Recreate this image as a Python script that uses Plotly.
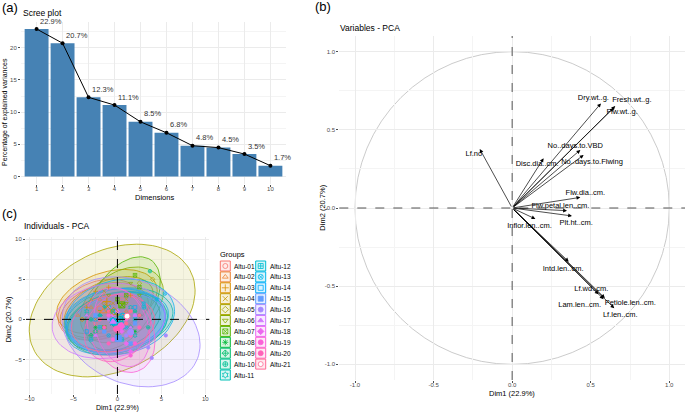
import math
import plotly.graph_objects as go

W, H = 685, 414

# ---------------- (a) scree plot
dims = [1, 2, 3, 4, 5, 6, 7, 8, 9, 10]
var_pct = [22.9, 20.7, 12.3, 11.1, 8.5, 6.8, 4.8, 4.5, 3.5, 1.7]
var_lbl = ["22.9%", "20.7%", "12.3%", "11.1%", "8.5%", "6.8%", "4.8%", "4.5%", "3.5%", "1.7%"]

# ---------------- (b) variables - PCA (arrow tips and label spots)
var_names = ["Dry.wt..g.", "Fresh.wt..g.", "Flw.wt..g.", "No..days.to.VBD", "No..days.to.Flwing",
             "Disc.dia..cm.", "Lf.no", "Flw.dia..cm.", "Flw.petal.len..cm.", "Plt.ht..cm.",
             "Inflor.len..cm.", "Intd.len..cm.", "Lf.wd..cm.", "Lam.len..cm.", "Petiole.len..cm.",
             "Lf.len..cm."]
var_x = [0.565, 0.656, 0.646, 0.434, 0.455, 0.200, -0.206, 0.434, 0.349, 0.381,
         0.148, 0.360, 0.550, 0.582, 0.590, 0.650]
var_y = [0.669, 0.652, 0.640, 0.371, 0.339, 0.318, 0.377, 0.068, -0.017, -0.051,
         -0.070, -0.343, -0.552, -0.583, -0.576, -0.641]
lab_x = [0.517, 0.762, 0.700, 0.402, 0.508, 0.159, -0.244, 0.466, 0.307, 0.408,
         0.110, 0.324, 0.504, 0.430, 0.752, 0.688]
lab_y = [0.700, 0.690, 0.610, 0.398, 0.292, 0.279, 0.343, 0.098, 0.013, -0.094,
         -0.113, -0.388, -0.518, -0.622, -0.611, -0.686]

# ---------------- (c) individuals - PCA
groups = ["Altu-01", "Altu-02", "Altu-03", "Altu-04", "Altu-05", "Altu-06", "Altu-07",
          "Altu-08", "Altu-09", "Altu-10", "Altu-11", "Altu-12", "Altu-13", "Altu-14",
          "Altu-15", "Altu-16", "Altu-17", "Altu-18", "Altu-19", "Altu-20", "Altu-21"]
ell_cx = [-2.0, -1.5, -1.2, -1.0, -0.6, 0.5, 0.6, -0.5, 0.0, 0.2, -0.3, 0.0, 0.3, -0.2,
          0.0, 1.55, -1.0, 0.5, 0.4, 0.0, -0.5]
ell_cy = [1.2, 1.0, 2.2, 1.5, 1.1, 1.8, 2.0, -0.3, -0.5, 0.0, -0.2, -0.5, 0.3, 0.0,
          -0.5, -1.55, -0.2, -1.0, -1.3, -1.0, -0.5]
ell_a = [5.0, 5.2, 6.0, 5.5, 10.2, 5.5, 6.3, 5.5, 5.8, 6.2, 5.8, 6.0, 6.3, 5.7,
         5.5, 8.3, 6.5, 5.0, 5.5, 4.5, 4.8]
ell_b = [3.5, 3.3, 3.6, 3.2, 7.3, 3.8, 3.5, 3.5, 3.8, 3.8, 4.0, 3.6, 4.6, 3.8,
         3.5, 6.3, 4.6, 3.0, 3.6, 3.5, 3.5]
ell_ang = [25, 20, 22, 28, 33, 45, 62, 18, 15, 12, 8, 18, 15, 10, 15, -30, 12, -75, -70, 60, 12]

pts_x = [[-3.5, -1.0, -2.5, 0.5, -4.0, -1.5], [-3.0, -0.5, -2.0, 1.0, -4.5, -1.0],
         [-2.5, 0.5, -3.5, -1.0, 1.5, -2.0], [-3.0, 0.0, -1.5, 1.0, -2.5, -0.5],
         [-4.0, 2.5, -1.5, 0.5, 4.0, -2.5], [-1.0, 1.5, 0.0, 2.5, -2.0, 1.0],
         [-0.5, 2.0, 1.0, -1.5, 2.5, 0.0], [-2.5, 1.0, -1.0, 2.0, -3.5, 0.0],
         [-2.0, 1.5, -3.0, 2.5, 0.0, -1.0], [-3.0, 2.0, 0.0, 3.5, -1.5, 3.7],
         [-2.5, 1.5, -0.5, 2.0, -3.5, 0.5], [-2.0, 2.0, 0.5, -1.0, 3.0, -3.0],
         [-2.0, 3.0, 1.0, 4.5, -1.0, 5.4], [-2.5, 1.5, -0.5, 2.0, -3.5, 0.5],
         [-1.5, 2.0, 0.0, 1.5, -2.5, 1.0], [-1.0, 3.5, 1.0, 5.5, 2.0, 3.9],
         [-3.5, 1.5, -1.0, 2.0, -2.5, 0.0], [0.0, 1.0, 0.5, -0.5, 1.5, 0.0],
         [-1.0, 2.0, 0.0, 1.5, -0.5, 1.0], [-1.5, 1.0, 0.0, 2.5, -1.0, 1.5],
         [-2.0, 1.5, 0.0, 2.5, -1.0, 1.0]]
pts_y = [[2.0, 0.5, -0.5, 2.5, 0.0, 3.0], [1.5, -0.5, 2.5, 1.0, 0.5, 0.0],
         [3.5, 2.0, 1.5, 4.0, 3.0, 0.5], [2.5, 1.0, 3.5, 2.5, 0.0, 2.0],
         [0.0, 4.5, 2.0, 0.5, 5.0, -1.5], [3.0, 4.5, 0.5, 3.0, 1.0, 2.0],
         [1.0, 5.5, 3.0, -1.0, 4.0, 2.5], [-1.0, 0.5, 1.5, -1.5, 0.5, -2.0],
         [0.5, -1.0, -2.0, 0.5, -1.5, 1.0], [0.0, 1.0, -2.0, -1.0, 1.5, 6.0],
         [-1.5, 1.5, 0.5, -2.0, 1.0, -1.0], [-1.0, 0.0, -2.5, 1.5, 1.5, -2.5],
         [0.5, 2.0, -1.0, 2.5, -2.0, 3.2], [0.0, -1.5, 1.0, 1.5, -1.5, -0.5],
         [-1.5, -0.5, 1.0, -3.0, 0.5, 0.5], [0.0, -3.5, -2.0, -2.0, 0.5, -4.8],
         [0.5, -1.0, 1.5, 0.5, -2.0, -0.5], [1.0, -3.0, -1.5, 0.5, -4.0, -0.5],
         [0.5, -3.0, -1.0, -4.5, -2.5, 0.0], [-1.0, 0.5, -2.5, -1.0, -3.0, -2.0],
         [0.0, 1.0, -1.5, 0.5, 1.0, -0.5]]
cen_x = [-2.0, -1.6, -1.2, -1.1, -0.4, 0.4, 0.5, -0.5, -0.3, 0.3, -0.5, -0.1, 0.6, -0.4,
         0.1, 1.5, -0.5, 0.4, 0.4, -0.1, 1.1]
cen_y = [1.3, 1.0, 2.2, 1.6, 1.0, 1.8, 1.8, -0.4, -0.5, 0.0, -0.2, -0.4, 0.4, -0.3,
         -2.4, -1.6, -0.3, -0.9, -0.8, -1.2, 0.4]

symbols = ["circle-open", "triangle-up-open", "cross-thin-open", "x-thin-open", "diamond-open",
           "triangle-down-open", "square-x-open", "asterisk-open", "diamond-cross-open",
           "circle-cross-open", "hexagram-open", "square-cross-open", "circle-x-open",
           "square-open", "square", "circle", "triangle-up", "diamond", "circle", "circle",
           "circle"]


def hue_hex(h, c=100.0, l=65.0):
    # ggplot2 hue palette colour (polar Luv -> sRGB)
    hr = math.radians(h)
    u, v = c * math.cos(hr), c * math.sin(hr)
    xn, yn, zn = 95.047, 100.0, 108.883
    un = 4 * xn / (xn + 15 * yn + 3 * zn)
    vn = 9 * yn / (xn + 15 * yn + 3 * zn)
    y = yn * ((l + 16) / 116) ** 3
    up = u / (13 * l) + un
    vp = v / (13 * l) + vn
    x = y * 9 * up / (4 * vp)
    z = y * (12 - 3 * up - 20 * vp) / (4 * vp)
    x, y, z = x / 100, y / 100, z / 100
    rgb = [3.2404542 * x - 1.5371385 * y - 0.4985314 * z,
           -0.9692660 * x + 1.8760108 * y + 0.0415560 * z,
           0.0556434 * x - 0.2040259 * y + 1.0572252 * z]
    out = []
    for ch in rgb:
        ch = 12.92 * ch if ch <= 0.0031308 else 1.055 * ch ** (1 / 2.4) - 0.055
        out.append(int(round(min(max(ch, 0), 1) * 255)))
    return out


cols = [hue_hex(15 + i * 360 / 21) for i in range(21)]


def rgba(c, a):
    return "rgba(%d,%d,%d,%s)" % (c[0], c[1], c[2], a)


def ellipse(cx, cy, a, b, ang, n=90):
    r = math.radians(ang)
    xs, ys = [], []
    for k in range(n + 1):
        t = 2 * math.pi * k / n
        xs.append(cx + a * math.cos(t) * math.cos(r) - b * math.sin(t) * math.sin(r))
        ys.append(cy + a * math.cos(t) * math.sin(r) + b * math.sin(t) * math.cos(r))
    return xs, ys


def P(px, py):
    return px / W, 1 - py / H


fig = go.Figure()

# (a)
fig.add_trace(go.Bar(x=dims, y=var_pct, marker=dict(color="#4682B4", line=dict(width=0)),
                     width=0.92, xaxis="x", yaxis="y", showlegend=False))
fig.add_trace(go.Scatter(x=dims, y=var_pct, mode="lines+markers+text", text=var_lbl,
                         textposition="top right", textfont=dict(size=7.5, color="#333333"),
                         line=dict(color="black", width=1), marker=dict(color="black", size=4),
                         xaxis="x", yaxis="y", showlegend=False, cliponaxis=False))

# (b)
for i in range(len(var_names)):
    fig.add_annotation(x=var_x[i], y=var_y[i], ax=0, ay=0, xref="x2", yref="y2",
                       axref="x2", ayref="y2", text="", showarrow=True, arrowhead=2,
                       arrowsize=1.1, arrowwidth=0.7, arrowcolor="black")
fig.add_trace(go.Scatter(x=lab_x, y=lab_y, mode="text", text=var_names,
                         textfont=dict(size=7.5, color="black"), xaxis="x2", yaxis="y2",
                         showlegend=False, cliponaxis=False))
fig.add_shape(type="circle", xref="x2", yref="y2", x0=-1, x1=1, y0=-1, y1=1,
              line=dict(color="#BEBEBE", width=0.8), layer="below")
fig.add_shape(type="line", xref="x2", yref="y2 domain", x0=0, x1=0, y0=0, y1=1,
              line=dict(color="#555555", width=1, dash="dash"))
fig.add_shape(type="line", xref="x2 domain", yref="y2", x0=0, x1=1, y0=0, y1=0,
              line=dict(color="#555555", width=1, dash="dash"))

# (c) ellipses, points, group means
for i in range(21):
    ex, ey = ellipse(ell_cx[i], ell_cy[i], ell_a[i], ell_b[i], ell_ang[i])
    fig.add_trace(go.Scatter(x=ex, y=ey, mode="lines", fill="toself",
                             fillcolor=rgba(cols[i], 0.12), line=dict(color=rgba(cols[i], 1), width=0.8),
                             xaxis="x3", yaxis="y3", showlegend=False, hoverinfo="skip"))
for i in range(21):
    fig.add_trace(go.Scatter(x=pts_x[i], y=pts_y[i], mode="markers",
                             marker=dict(symbol=symbols[i], size=3.5, color=rgba(cols[i], 1),
                                         line=dict(width=0.7, color=rgba(cols[i], 1))),
                             xaxis="x3", yaxis="y3", showlegend=False))
for i in range(21):
    fill = "white" if i == 20 else rgba(cols[i], 1)
    fig.add_trace(go.Scatter(x=[cen_x[i]], y=[cen_y[i]], mode="markers",
                             marker=dict(symbol=symbols[i], size=6, color=fill,
                                         line=dict(width=1, color=rgba(cols[i], 1))),
                             xaxis="x3", yaxis="y3", showlegend=False))
fig.add_shape(type="line", xref="x3", yref="y3 domain", x0=0, x1=0, y0=0, y1=1,
              line=dict(color="black", width=1, dash="dash"))
fig.add_shape(type="line", xref="x3 domain", yref="y3", x0=0, x1=1, y0=0, y1=0,
              line=dict(color="black", width=1, dash="dash"))

# (c) legend, drawn on its own hidden axes
leg_col = [0 if i < 11 else 1 for i in range(21)]
leg_row = [i if i < 11 else i - 11 for i in range(21)]
fig.add_trace(go.Scatter(x=leg_col, y=leg_row, mode="markers",
                         marker=dict(symbol="square", size=10, color=[rgba(c, 0.15) for c in cols],
                                     line=dict(width=1, color=[rgba(c, 1) for c in cols])),
                         xaxis="x4", yaxis="y4", showlegend=False, cliponaxis=False))
for i in range(21):
    fill = "white" if i == 20 else rgba(cols[i], 1)
    fig.add_trace(go.Scatter(x=[leg_col[i]], y=[leg_row[i]], mode="markers",
                             marker=dict(symbol=symbols[i], size=5, color=fill,
                                         line=dict(width=0.8, color=rgba(cols[i], 1))),
                             xaxis="x4", yaxis="y4", showlegend=False, cliponaxis=False))
    fig.add_annotation(x=leg_col[i], y=leg_row[i], xref="x4", yref="y4", text=groups[i],
                       showarrow=False, xanchor="left", xshift=7,
                       font=dict(size=6.5, color="black"))

grid = "#EBEBEB"
minor = dict(showgrid=True, gridcolor="#F4F4F4", gridwidth=0.6)
tickf = dict(size=6, color="#4D4D4D")
ax_common = dict(showline=False, zeroline=False, gridcolor=grid, gridwidth=0.8, automargin=False,
                 ticks="outside", ticklen=2, tickcolor="#4D4D4D", tickwidth=0.6, tickfont=tickf)

fig.update_layout(
    width=W, height=H, margin=dict(l=0, r=0, t=0, b=0),
    paper_bgcolor="white", plot_bgcolor="white",
    font=dict(family="Liberation Sans, Arial, sans-serif", color="black"),
    bargap=0.08,
    xaxis=dict(domain=[21 / W, 286 / W], range=[0.4, 10.6], tickvals=dims,
               ticklabelstandoff=-3, anchor="y", **ax_common),
    yaxis=dict(domain=[1 - 184 / H, 1 - 21.6 / H], range=[-1.145, 24.05], tickvals=[0, 5, 10, 15, 20],
               minor=dict(tickvals=[2.5, 7.5, 12.5, 17.5, 22.5], **minor), anchor="x", **ax_common),
    xaxis2=dict(domain=[339.3 / W, 1.0], range=[-1.1, 1.1], tickvals=[-1, -0.5, 0, 0.5, 1],
                ticktext=["-1.0", "-0.5", "0.0", "0.5", "1.0"], ticklabelstandoff=-3,
                minor=dict(tickvals=[-0.75, -0.25, 0.25, 0.75], **minor), anchor="y2", **ax_common),
    yaxis2=dict(domain=[1 - 380 / H, 1 - 36 / H], range=[-1.1, 1.1], tickvals=[-1, -0.5, 0, 0.5, 1],
                ticktext=["-1.0", "-0.5", "0.0", "0.5", "1.0"],
                minor=dict(tickvals=[-0.75, -0.25, 0.25, 0.75], **minor), anchor="x2", **ax_common),
    xaxis3=dict(domain=[26 / W, 209.3 / W], range=[-10.4, 10.45], tickvals=[-10, -5, 0, 5, 10],
                ticklabelstandoff=-3,
                minor=dict(tickvals=[-7.5, -2.5, 2.5, 7.5], **minor), anchor="y3", **ax_common),
    yaxis3=dict(domain=[1 - 394 / H, 1 - 236.7 / H], range=[-9.3, 10.3], tickvals=[-5, 0, 5, 10],
                minor=dict(tickvals=[-7.5, -2.5, 2.5, 7.5], **minor), anchor="x3", **ax_common),
    xaxis4=dict(domain=[225.3 / W, 260.7 / W], range=[0, 1], visible=False, anchor="y4",
                automargin=False),
    yaxis4=dict(domain=[1 - 375 / H, 1 - 266 / H], range=[10, 0], visible=False, anchor="x4",
                automargin=False),
)

texts = [
    ("(a)", 1, 8, 13, "left", 0),
    ("Scree plot", 22, 13, 8.5, "left", 0),
    ("Dimensions", 154, 197.5, 7.5, "center", 0),
    ("Percentage of explained variances", 5, 112, 7, "center", -90),
    ("(b)", 314, 7, 13, "left", 0),
    ("Variables - PCA", 339.3, 28, 8.5, "left", 0),
    ("Dim1 (22.9%)", 511.7, 393.5, 7.5, "center", 0),
    ("Dim2 (20.7%)", 321.7, 208, 7.5, "center", -90),
    ("(c)", 1, 214, 13, "left", 0),
    ("Individuals - PCA", 22.7, 226, 8.5, "left", 0),
    ("Dim1 (22.9%)", 117.3, 408, 7, "center", 0),
    ("Dim2 (20.7%)", 8.3, 319, 7.5, "center", -90),
    ("Groups", 219.5, 254.5, 7.5, "left", 0),
]
for t, px, py, sz, anc, ang in texts:
    x, y = P(px, py)
    fig.add_annotation(x=x, y=y, xref="paper", yref="paper", text=t, showarrow=False,
                       xanchor=anc, yanchor="middle", textangle=ang, borderpad=0,
                       font=dict(size=sz, color="black"))

# the page body has a default 8px margin; drop it so the figure fills the window
fig.write_html("out.html", config={"displayModeBar": False},
               post_script="document.body.style.margin='0px';")
